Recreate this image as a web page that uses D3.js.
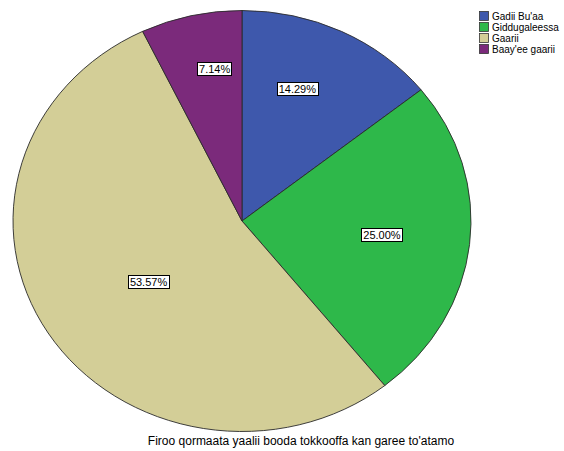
<!DOCTYPE html>
<html><head><meta charset="utf-8">
<script src="https://cdn.jsdelivr.net/npm/d3@7"></script>
<style>body{margin:0;background:#fff}svg{display:block}text{font-family:"Liberation Sans",Arial,sans-serif}</style>
</head><body><svg id="c" width="564" height="451"></svg>
<script>
const categories = ["Gadii Bu'aa", "Giddugaleessa", "Gaarii", "Baay'ee gaarii"];
const counts = [4, 7, 15, 2];
const percentLabels = ["14.29%", "25.00%", "53.57%", "7.14%"];
const colors = ["#3e58ac", "#2eb84a", "#d3ce97", "#7b2a7b"];
const title = "Firoo qormaata yaalii booda tokkooffa kan garee to'atamo";

// layout (not data)
const cx = 242, cy = 221, rx = 229, ry = 210.5;
const labelR = [0.67, 0.615, 0.50, 0.73];
const labelAngleShift = [-0.08, 0.0, -0.055, 0.06];

const svg = d3.select("#c");
const pie = d3.pie().sort(null).value(d => d)(counts);
const arc = d3.arc().innerRadius(0).outerRadius(ry);
const g = svg.append("g").attr("transform", `translate(${cx},${cy}) scale(${rx/ry},1)`);
g.selectAll("path").data(pie).join("path")
  .attr("d", arc)
  .attr("fill", (d,i) => colors[i])
  .attr("stroke", "#2a2a2a").attr("stroke-width", 0.9)
  .attr("vector-effect", "non-scaling-stroke");

const lg = svg.append("g");
pie.forEach((d,i) => {
  const a = (d.startAngle + d.endAngle)/2 + labelAngleShift[i];
  const x = cx + Math.sin(a) * rx * labelR[i];
  const y = cy - Math.cos(a) * ry * labelR[i];
  const t = lg.append("text").attr("x", x).attr("y", y + 4)
    .attr("text-anchor", "middle").attr("font-size", 11).attr("fill", "#000")
    .text(percentLabels[i]);
  const bb = t.node().getBBox();
  lg.insert("rect", "text").attr("x", Math.round(bb.x) - 1.5).attr("y", Math.round(y) - 6.5)
    .attr("width", Math.round(bb.width) + 3).attr("height", 13)
    .attr("fill", "#fff").attr("stroke", "#000").attr("stroke-width", 1);
});

const leg = svg.append("g");
categories.forEach((c,i) => {
  const y = 11 + i * 11;
  leg.append("rect").attr("x", 479.5).attr("y", y + 0.5).attr("width", 9).attr("height", 9)
    .attr("fill", colors[i]).attr("stroke", "#333").attr("stroke-width", 0.8);
  leg.append("text").attr("x", 492).attr("y", y + 9).attr("font-size", 10).attr("fill", "#000").text(c);
});

svg.append("text").attr("x", 301).attr("y", 445).attr("text-anchor", "middle")
  .attr("font-size", 12).attr("fill", "#000").text(title);
</script></body></html>
